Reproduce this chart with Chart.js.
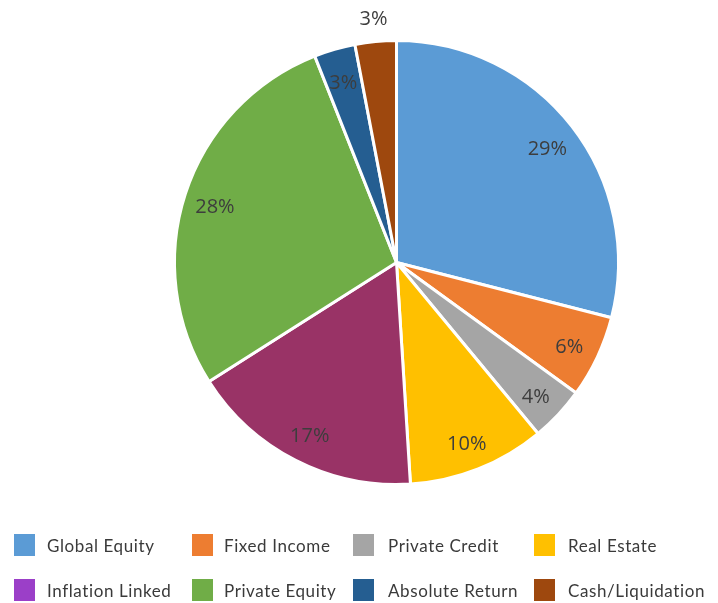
<!DOCTYPE html>
<html>
<head>
<meta charset="utf-8">
<script src="https://cdn.jsdelivr.net/npm/chart.js@4/dist/chart.umd.min.js"></script>
<style>
  html, body { margin: 0; padding: 0; background: #fff; }
  #wrap { position: relative; width: 718px; height: 603px; overflow: hidden; }
  #grafico { position: absolute; left: 0; top: 0; }
  #leyenda { position: absolute; left: 0; top: 0; width: 718px; height: 603px; pointer-events: none; }
  .item { position: absolute; display: flex; align-items: center; white-space: nowrap;
          font-family: "Lato", sans-serif; font-size: 17px; letter-spacing: 0.6px; color: #3a3a3a; }
  .caja { width: 21px; height: 22px; }
</style>
</head>
<body>
<div id="wrap">
  <canvas id="grafico" width="718" height="520"></canvas>
  <div id="leyenda"></div>
</div>
<script>
const categorias = ["Global Equity", "Fixed Income", "Private Credit", "Real Estate",
                    "Inflation Linked", "Private Equity", "Absolute Return", "Cash/Liquidation"];
const valores = [29, 6, 4, 10, 17, 28, 3, 3];
const etiquetas = ["29%", "6%", "4%", "10%", "17%", "28%", "3%", "3%"];
const colores = ["#5b9bd5", "#ed7d31", "#a5a5a5", "#ffc000", "#993366", "#70ad47", "#255e91", "#9e480e"];
const coloresLeyenda = ["#5b9bd5", "#ed7d31", "#a5a5a5", "#ffc000", "#9b3fc8", "#70ad47", "#255e91", "#9e480e"];

// etiquetas dentro de cada porción (la última va fuera)
const pluginEtiquetas = {
  id: "etiquetas",
  afterDatasetsDraw(chart) {
    const c = chart.ctx;
    const arcos = chart.getDatasetMeta(0).data;
    c.save();
    c.font = '20px "Open Sans", sans-serif';
    c.fillStyle = "#3d3d3d";
    c.textAlign = "center";
    c.textBaseline = "middle";
    arcos.forEach((arc, i) => {
      const p = arc.getProps(["x", "y", "startAngle", "endAngle", "outerRadius"], true);
      const medio = (p.startAngle + p.endAngle) / 2;
      const fuera = i === arcos.length - 1;
      const r = fuera ? p.outerRadius * 1.1 : p.outerRadius * 0.86;
      c.fillText(etiquetas[i], p.x + Math.cos(medio) * r, p.y + Math.sin(medio) * r + (fuera ? 0 : 4));
    });
    c.restore();
  }
};

new Chart(document.getElementById("grafico"), {
  type: "pie",
  data: {
    labels: categorias,
    datasets: [{
      data: valores,
      backgroundColor: colores,
      borderColor: "#ffffff",
      borderWidth: 3
    }]
  },
  options: {
    responsive: false,
    animation: false,
    layout: { padding: { left: 173, right: 98, top: 39, bottom: 34 } },
    plugins: { legend: { display: false }, tooltip: { enabled: false } }
  },
  plugins: [pluginEtiquetas]
});

// leyenda en dos filas de cuatro columnas
const columnasCaja = [14, 192, 353, 534];
const columnasTexto = [47, 224, 388, 568];
const filas = [545, 590];
const leyenda = document.getElementById("leyenda");
categorias.forEach((nombre, i) => {
  const col = i % 4;
  const div = document.createElement("div");
  div.className = "item";
  div.style.left = columnasCaja[col] + "px";
  div.style.top = (filas[Math.floor(i / 4)] - 11) + "px";
  const hueco = columnasTexto[col] - columnasCaja[col] - 21;
  div.innerHTML = `<span class="caja" style="background:${coloresLeyenda[i]};margin-right:${hueco}px"></span>${nombre}`;
  leyenda.appendChild(div);
});
</script>
</body>
</html>
